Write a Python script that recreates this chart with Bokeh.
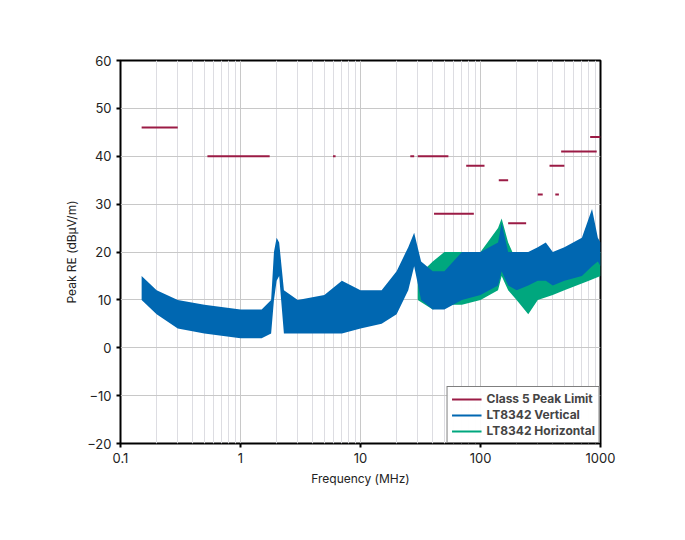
from bokeh.plotting import figure
from bokeh.models import FixedTicker, Legend, LegendItem
from bokeh.embed import file_html
from bokeh.resources import INLINE

# Class 5 peak limit segments (MHz start, MHz end, dBuV/m)
lim_f0 = [0.15, 0.53, 5.9, 26, 30, 41, 76, 142, 170, 300, 376, 420, 470, 820]
lim_f1 = [0.30, 1.75, 6.2, 28, 54, 88, 108, 170, 240, 330, 500, 450, 930, 1000]
lim_db = [46, 40, 40, 40, 40, 28, 38, 35, 26, 32, 38, 32, 41, 44]

# LT8342 Vertical: envelope (low / high)
v_f  = [0.15, 0.2, 0.3, 0.5, 1, 1.5, 1.8, 1.9, 2.0, 2.1, 2.3, 3, 5, 7, 10, 15, 20, 25, 28, 32, 40, 50, 70, 100, 140, 150, 170, 200, 250, 300, 350, 400, 500, 700, 850, 950, 1000]
v_lo = [10, 7, 4, 3, 2, 2, 3, 10, 14, 15, 3, 3, 3, 3, 4, 5, 7, 12, 17, 10, 8, 8, 10, 11, 13, 16, 13, 12, 13, 14, 14, 13, 14, 15, 17, 18, 17]
v_hi = [15, 12, 10, 9, 8, 8, 10, 20, 23, 22, 12, 10, 11, 14, 12, 12, 16, 21, 24, 18, 16, 16, 20, 20, 22, 26, 20, 20, 20, 21, 22, 20, 21, 23, 29, 23, 22]

# LT8342 Horizontal envelope
h_f  = [30, 40, 50, 70, 100, 140, 150, 170, 200, 250, 300, 400, 500, 800, 1000]
h_lo = [10, 8, 9, 9, 10, 12, 15, 12, 10, 7, 10, 11, 12, 14, 15]
h_hi = [15, 18, 20, 20, 20, 25, 27, 22, 18, 15, 18, 18, 18, 19, 20]

RED = "#9b1b45"
BLUE = "#0067b1"
GREEN = "#00a77e"
FONT = "Inter"

p = figure(width=640, height=520, x_axis_type="log", x_range=(0.1, 1000), y_range=(-20, 60),
           output_backend="svg", toolbar_location=None,
           min_border_left=120, min_border_right=40, min_border_top=60, min_border_bottom=77)
p.outline_line_color = "black"
p.outline_line_width = 2

p.varea(x=h_f, y1=h_lo, y2=h_hi, fill_color=GREEN)
p.varea(x=v_f, y1=v_lo, y2=v_hi, fill_color=BLUE)
p.segment(x0=lim_f0, x1=lim_f1, y0=lim_db, y1=lim_db, line_color=RED, line_width=2)

nan = float("nan")
l1 = p.line(x=[nan], y=[nan], line_color=RED, line_width=2)
l2 = p.line(x=[nan], y=[nan], line_color=BLUE, line_width=2)
l3 = p.line(x=[nan], y=[nan], line_color=GREEN, line_width=2)

p.xaxis.ticker = FixedTicker(ticks=[0.1, 1, 10, 100, 1000],
                             minor_ticks=[m * 10 ** e for e in range(-1, 3) for m in range(2, 10)])
p.xaxis.major_label_overrides = {0.1: "0.1", 1: "1", 10: "10", 100: "100", 1000: "1000"}
p.yaxis.ticker = FixedTicker(ticks=list(range(-20, 61, 10)))
p.yaxis.major_label_overrides = {v: (str(v).replace("-", "\u2212")) for v in range(-20, 61, 10)}
p.xgrid.grid_line_color = "#c8c8c8"
p.xgrid.minor_grid_line_color = "#dddde2"
p.ygrid.grid_line_color = "#c8c8c8"
p.xaxis.axis_label = "Frequency (MHz)"
p.yaxis.axis_label = "Peak RE (dBµV/m)"
for ax in (p.xaxis, p.yaxis):
    ax.axis_label_text_font = FONT
    ax.axis_label_text_font_style = "normal"
    ax.axis_label_text_font_size = "12px"
    ax.axis_label_text_color = "#222222"
    ax.major_label_text_font = FONT
    ax.major_label_text_font_size = "13px"
    ax.major_label_text_color = "#222222"
    ax.axis_line_color = None
    ax.major_tick_line_color = "black"
    ax.major_tick_line_width = 2
    ax.major_tick_out = 4
    ax.major_tick_in = 0
    ax.minor_tick_line_color = None

legend = Legend(items=[LegendItem(label="Class 5 Peak Limit", renderers=[l1]),
                       LegendItem(label="LT8342 Vertical", renderers=[l2]),
                       LegendItem(label="LT8342 Horizontal", renderers=[l3])],
                location="bottom_right", border_line_color="black", border_line_width=1,
                label_text_font=FONT, label_text_font_size="12px", label_text_font_style="bold",
                glyph_height=4, glyph_width=30, spacing=1, padding=4, margin=0, label_height=14)
p.add_layout(legend)

open("out.html", "w").write(file_html(p, INLINE))
